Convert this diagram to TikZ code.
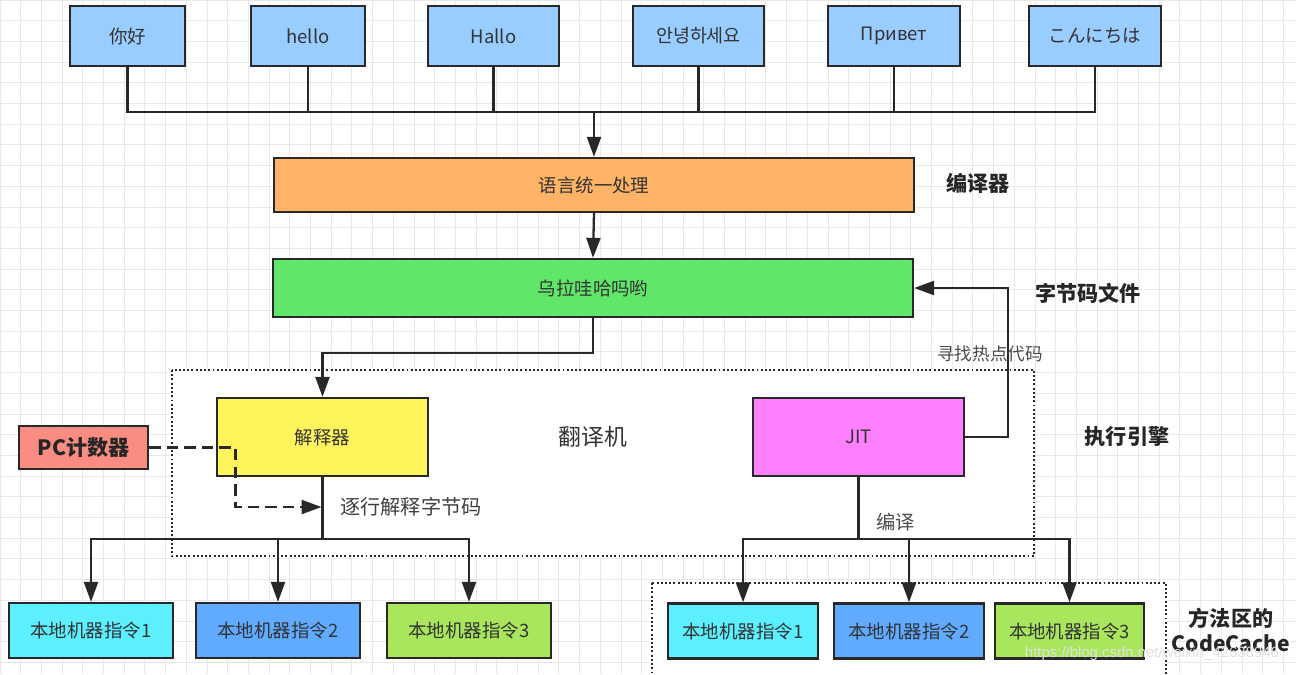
\documentclass[tikz,border=0pt]{standalone}
\usepackage{fontspec}
\setmainfont{Noto Sans CJK SC}
\newfontfamily\wmfont{Liberation Sans}
\usetikzlibrary{arrows.meta}
\definecolor{langblue}{RGB}{153,204,255}
\definecolor{unifyorange}{RGB}{255,179,102}
\definecolor{codegreen}{RGB}{96,230,104}
\definecolor{interpyellow}{RGB}{255,244,92}
\definecolor{jitpink}{RGB}{255,128,255}
\definecolor{pcred}{RGB}{250,140,130}
\definecolor{instcyan}{RGB}{92,240,255}
\definecolor{instblue}{RGB}{96,170,255}
\definecolor{instlime}{RGB}{170,230,92}
\definecolor{ink}{RGB}{40,40,40}
\definecolor{gridgray}{RGB}{232,232,232}
\tikzset{
  box/.style={rectangle,draw=ink,line width=1.3pt,text=black!80,inner sep=0pt,
    font=\fontsize{10.5}{12}\selectfont},
  langbox/.style={box,fill=langblue,minimum height=1.2cm},
  instbox/.style={box,minimum height=1.1cm},
  wire/.style={draw=ink,line width=1.3pt},
  arr/.style={wire,-{Triangle[length=4mm,width=2.8mm]}},
  dasharr/.style={arr,dash pattern=on 6.5pt off 3.5pt},
  area/.style={draw=ink,line width=1.4pt,dash pattern=on 1.1pt off 1.3pt,fill=white},
  side/.style={text=black!85,font=\bfseries\fontsize{12}{14.5}\selectfont},
  note/.style={text=black!70,font=\fontsize{10}{12}\selectfont},
  gridline/.style={draw=gridgray,line width=0.5pt}
}
\begin{document}
\begin{tikzpicture}[x=0.02cm,y=-0.02cm]
\useasboundingbox (0,0) rectangle (1296,674);
% background grid
\foreach \gx in {0,20.7,...,1296} \draw[gridline] (\gx,0) -- (\gx,674);
\foreach \gy in {0,20.7,...,674} \draw[gridline] (0,\gy) -- (1296,\gy);
% dotted areas
\draw[area] (172,370) rectangle (1034,556);
\draw[area] (652,583) rectangle (1166,690);
%
\node (nihao) [langbox,minimum width=2.3cm] at (127.5,36) {你好};
\node (hello) [langbox,minimum width=2.28cm] at (308,36) {hello};
\node (hallo) [langbox,minimum width=2.62cm] at (493.5,36) {Hallo};
\node (annyeong) [langbox,minimum width=2.62cm] at (698.5,36) {안녕하세요};
\node (privet) [langbox,minimum width=2.64cm] at (894,36) {Привет};
\node (konnichiwa) [langbox,minimum width=2.64cm] at (1095,36) {こんにちは};
\coordinate (bus) at (594,112);
%
\node (unify) [box,fill=unifyorange,minimum width=12.8cm,minimum height=1.08cm] at (594,185) {语言统一处理};
\node (bytecode) [box,fill=codegreen,minimum width=12.8cm,minimum height=1.16cm] at (593,288) {乌拉哇哈吗哟};
\node (interp) [box,fill=interpyellow,minimum width=4.22cm,minimum height=1.56cm] at (322.5,437) {解释器};
\node (jit) [box,fill=jitpink,minimum width=4.22cm,minimum height=1.56cm] at (858.5,437) {JIT};
\node (pc) [box,fill=pcred,minimum width=2.58cm,minimum height=0.86cm,text=black!85,
  font=\bfseries\fontsize{12}{14}\selectfont] at (83.5,447.5) {PC计数器};
%
\node (lm1) [instbox,fill=instcyan,minimum width=3.28cm] at (91,630.5) {本地机器指令1};
\node (lm2) [instbox,fill=instblue,minimum width=3.28cm] at (278,630.5) {本地机器指令2};
\node (lm3) [instbox,fill=instlime,minimum width=3.28cm] at (469,630.5) {本地机器指令3};
\node (rm1) [instbox,fill=instcyan,minimum width=3.0cm] at (743,631) {本地机器指令1};
\node (rm2) [instbox,fill=instblue,minimum width=3.0cm] at (909,631) {本地机器指令2};
\node (rm3) [instbox,fill=instlime,minimum width=2.98cm] at (1069.5,631) {本地机器指令3};
%
\node (compiler) [side] at (978,183) {编译器};
\node (bcfile) [side] at (1088,293) {字节码文件};
\node (engine) [side] at (1127,437) {执行引擎};
\node (codecache) [side,align=center] at (1231,630) {方法区的\\CodeCache};
\node (translator) [text=black!80,font=\fontsize{13}{15}\selectfont] at (593,437) {翻译机};
%
\foreach \src in {nihao,hello,hallo,annyeong,privet,konnichiwa}
  \draw[wire] (\src.south) |- (bus);
\draw[arr] (bus) -- (unify.north);
\draw[arr] (unify.south) -- (bytecode.north);
\draw[arr] (bytecode.south) -- ++(0,35) -| (interp.north);
\draw[arr] (jit.east) -- ++(43,0) |- (bytecode.east)
  node[note,pos=0.28,xshift=-0.36cm] {寻找热点代码};
%
\coordinate (pcend) at (321.5,507);
\draw[dasharr] (pc.east) -| (235.5,480) |- (pcend);
\node (stepwise) [text=black!75,font=\fontsize{11.5}{13}\selectfont,anchor=west] at (334,507) {逐行解释字节码};
%
\coordinate (ibus) at (322.5,539);
\draw[wire] (interp.south) -- (ibus);
\foreach \dst in {lm1,lm2,lm3}
  \draw[arr] (ibus) -| (\dst.north);
\coordinate (jbus) at (858.5,539);
\draw[wire] (jit.south) -- (jbus);
\foreach \dst in {rm1,rm2,rm3}
  \draw[arr] (jbus) -| (\dst.north);
\node (compile) [note,font=\fontsize{11}{13}\selectfont,anchor=west] at (870,522) {编译};
%
\node (wm) [text=white!88!black,font=\wmfont\fontsize{8.5}{10}\selectfont] at (1152,654) {https://blog.csdn.net/weixin\_42638946};
\end{tikzpicture}
\end{document}
